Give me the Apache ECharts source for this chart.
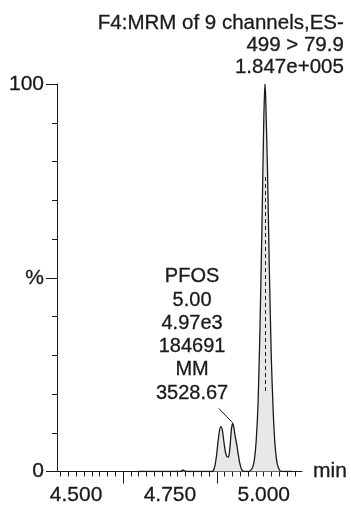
<!DOCTYPE html>
<html>
<head>
<meta charset="utf-8">
<script src="https://cdn.jsdelivr.net/npm/echarts@6/dist/echarts.min.js"></script>
<style>html,body{margin:0;padding:0;background:#fff}#c{width:351px;height:507px}</style>
</head>
<body>
<div id="c"></div>
<script>
// Retention time (min)
const times = [4.666, 4.700, 4.740, 4.775, 4.780, 4.785, 4.790, 4.800, 4.840, 4.862,
  4.866, 4.870, 4.874, 4.878, 4.882, 4.886, 4.890, 4.894, 4.898, 4.902,
  4.905, 4.908, 4.911, 4.914, 4.917, 4.920, 4.924, 4.928, 4.932, 4.936,
  4.940, 4.945, 4.950, 4.960, 4.965, 4.970, 4.975, 4.980, 4.985, 4.990,
  4.995, 5.000, 5.003, 5.005, 5.010, 5.015, 5.020, 5.025, 5.030, 5.035,
  5.040, 5.045, 5.060, 5.075];
// Relative intensity (%)
const intensity = [0, 0, 0, 0, 0.1, 0.4, 0.1, 0, 0, 0,
  0.3, 1.5, 4, 7.5, 10.5, 11.6, 10.5, 7.5, 5, 3.8,
  3.7, 4.5, 7.5, 11, 12.4, 11.5, 9, 7, 4.5, 2.2,
  0.8, 0.1, 0, 0, 0.3, 1.0, 3, 8, 18, 37,
  62, 90, 100, 97, 78, 52, 30, 16, 7, 2.5,
  0.8, 0.1, 0, 0];

const xLabels = [4.5, 4.75, 5.0];
const yLabels = {0: '0', 50: '%', 100: '100'};
const headerLines = ['F4:MRM of 9 channels,ES-', '499 > 79.9', '1.847e+005'];
const annotationLines = ['PFOS', '5.00', '4.97e3', '184691', 'MM', '3528.67'];
const annotationAt = [4.809, 17.2];
const leaderFrom = [4.880, 16.3];
const leaderTo = [4.917, 12.6];
const rtMarker = 5.004;

const xMin = 4.449, xMax = 5.102;
const tickStep = 0.25 / 12;
const shortTicks = [];
for (let k = -2; k <= 28; k++) shortTicks.push(+(4.5 + k * tickStep).toFixed(5));
const longTicks = [4.625, 4.875];

const font = 'Liberation Sans, Arial, sans-serif';
const ink = '#1a1a1a';
const bold = {textBorderColor: ink, textBorderWidth: 0.3};

const chart = echarts.init(document.getElementById('c'), null, {renderer: 'canvas'});
chart.setOption({
  animation: false,
  backgroundColor: '#fff',
  grid: {left: 57, right: 49, top: 84, bottom: 35.5},
  xAxis: [{
    type: 'value', min: xMin, max: xMax,
    name: 'min', nameLocation: 'end', nameGap: 11,
    nameTextStyle: Object.assign({fontFamily: font, fontSize: 21, color: ink, verticalAlign: 'middle', padding: [2, 0, 0, 0]}, bold),
    axisLine: {show: true, lineStyle: {color: ink, width: 1}},
    axisTick: {show: true, customValues: shortTicks, length: 5, lineStyle: {color: ink, width: 1}},
    axisLabel: Object.assign({show: true, customValues: xLabels, margin: 13, fontFamily: font, fontSize: 21, color: ink,
      formatter: v => v.toFixed(3)}, bold),
    splitLine: {show: false}
  }, {
    type: 'value', min: xMin, max: xMax, position: 'bottom',
    axisLine: {show: false},
    axisTick: {show: true, customValues: longTicks, length: 12, lineStyle: {color: ink, width: 1}},
    axisLabel: {show: false},
    splitLine: {show: false}
  }],
  yAxis: {
    type: 'value', min: 0, max: 100, interval: 50,
    axisLine: {show: true, lineStyle: {color: ink, width: 1}},
    axisTick: {show: true, length: 11, lineStyle: {color: ink, width: 1}},
    minorTick: {show: true, splitNumber: 5, length: 5, lineStyle: {color: ink, width: 1}},
    axisLabel: Object.assign({margin: 13, fontFamily: font, fontSize: 21, color: ink, formatter: v => yLabels[v] ?? ''}, bold),
    splitLine: {show: false},
    minorSplitLine: {show: false}
  },
  graphic: [{
    type: 'text', right: 7, top: 12,
    style: {text: headerLines.join('\n'), font: '20.5px ' + font, fill: ink, textAlign: 'right', lineHeight: 22,
      stroke: ink, lineWidth: 0.3}
  }],
  series: [{
    type: 'line',
    xAxisIndex: 0,
    data: times.map((t, i) => [t, intensity[i]]),
    showSymbol: false, symbol: 'none',
    smooth: 0.2,
    lineStyle: {color: ink, width: 1.3},
    areaStyle: {color: '#e2e2e2', opacity: 0.8},
    markLine: {
      silent: true, symbol: 'none', animation: false,
      label: {show: false},
      data: [
        [{coord: leaderFrom, lineStyle: {color: ink, width: 1, type: 'solid'}}, {coord: leaderTo}],
        [{coord: [rtMarker, 76], lineStyle: {color: ink, width: 1, type: [4, 3]}}, {coord: [rtMarker, 20]}]
      ]
    },
    markPoint: {
      silent: true, symbol: 'circle', symbolSize: 0,
      data: [{coord: annotationAt}],
      label: Object.assign({show: true, position: 'top', distance: 0, formatter: annotationLines.join('\n'),
        fontFamily: font, fontSize: 20, lineHeight: 23.3, color: ink, align: 'center'}, bold)
    }
  }]
});
</script>
</body>
</html>
